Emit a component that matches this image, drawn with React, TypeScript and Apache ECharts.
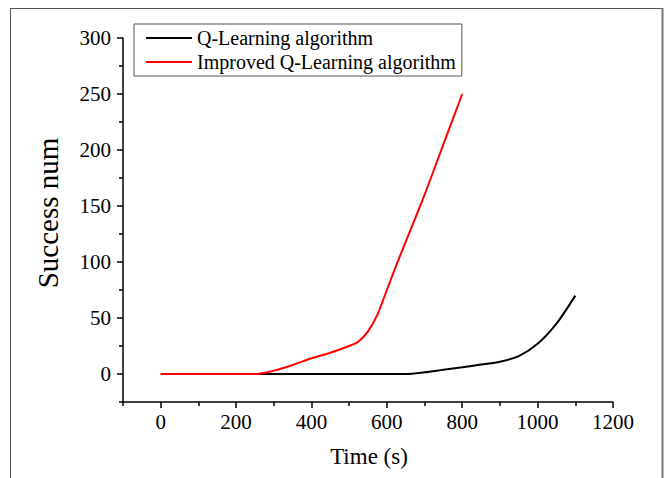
import React, { useEffect, useRef } from "react";
import * as echarts from "echarts";

const qTimes = [0, 100, 200, 300, 400, 500, 600, 650, 700, 750, 800, 850, 900, 950, 1000, 1050, 1100];
const qValues = [0, 0, 0, 0, 0, 0, 0, 0, 1.5, 3.8, 6, 8.5, 11, 16, 27, 45, 70];

const impTimes = [0, 100, 200, 250, 300, 350, 400, 450, 500, 525, 550, 575, 600, 625, 650, 700, 750, 800];
const impValues = [0, 0, 0, 0, 3, 8, 14, 19, 25, 29, 38, 53, 75, 97, 118, 160, 205, 250];

const seriesNames = ["Q-Learning algorithm", "Improved Q-Learning algorithm"];
const xMajorTicks = [0, 200, 400, 600, 800, 1000, 1200];
const xMinorTicks = [-100, 100, 300, 500, 700, 900, 1100];
const yMajorTicks = [0, 50, 100, 150, 200, 250, 300];
const yMinorTicks = [-25, 25, 75, 125, 175, 225, 275];
const xTitle = "Time (s)";
const yTitle = "Success num";

const FONT = "'Liberation Serif', 'Times New Roman', serif";

export default function App() {
  const ref = useRef<HTMLDivElement>(null);
  useEffect(() => {
    if (!ref.current) return;
    const chart = echarts.init(ref.current, null, { renderer: "svg" });
    const pair = (t: number[], v: number[]) => t.map((x, i) => [x, v[i]]);
    const fmt = (v: number) => String(v);
    const xBase = {
      type: "value",
      min: -100,
      max: 1200,
      gridIndex: 0,
      splitLine: { show: false },
    };
    const yBase = {
      type: "value",
      min: -25,
      max: 300,
      gridIndex: 0,
      splitLine: { show: false },
    };
    chart.setOption({
      animation: false,
      backgroundColor: "#ffffff",
      grid: { left: 123, top: 38, right: 53, bottom: 76, containLabel: false },
      legend: {
        orient: "vertical",
        left: 134,
        top: 24,
        padding: [4, 6, 4, 12],
        icon: "rect",
        itemWidth: 46,
        itemHeight: 2,
        itemGap: 4,
        borderColor: "#555",
        borderWidth: 1,
        data: seriesNames,
        textStyle: { fontFamily: FONT, fontSize: 20, color: "#000", lineHeight: 20 },
      },
      xAxis: [
        {
          ...xBase,
          position: "bottom",
          axisLine: { show: true, onZero: false, lineStyle: { color: "#000", width: 1.5 } },
          axisTick: { show: true, length: 6, customValues: xMajorTicks, lineStyle: { color: "#000", width: 1.5 } },
          axisLabel: {
            show: true,
            customValues: xMajorTicks,
            formatter: fmt,
            margin: 9,
            fontFamily: FONT,
            fontSize: 21,
            color: "#000",
          },
        },
        {
          ...xBase,
          position: "bottom",
          axisLine: { show: false, onZero: false },
          axisTick: { show: true, length: 4, customValues: xMinorTicks, lineStyle: { color: "#000", width: 1.5 } },
          axisLabel: { show: false },
        },
      ],
      yAxis: [
        {
          ...yBase,
          position: "left",
          axisLine: { show: true, onZero: false, lineStyle: { color: "#000", width: 1.5 } },
          axisTick: { show: true, length: 6, customValues: yMajorTicks, lineStyle: { color: "#000", width: 1.5 } },
          axisLabel: {
            show: true,
            customValues: yMajorTicks,
            formatter: fmt,
            margin: 12,
            fontFamily: FONT,
            fontSize: 21,
            color: "#000",
          },
        },
        {
          ...yBase,
          position: "left",
          axisLine: { show: false, onZero: false },
          axisTick: { show: true, length: 4, customValues: yMinorTicks, lineStyle: { color: "#000", width: 1.5 } },
          axisLabel: { show: false },
        },
      ],
      series: [
        {
          name: seriesNames[0],
          type: "line",
          data: pair(qTimes, qValues),
          symbol: "none",
          smooth: 0.3,
          lineStyle: { color: "#000", width: 2 },
          itemStyle: { color: "#000" },
          z: 3,
        },
        {
          name: seriesNames[1],
          type: "line",
          data: pair(impTimes, impValues),
          symbol: "none",
          smooth: 0.3,
          lineStyle: { color: "#ff0000", width: 2 },
          itemStyle: { color: "#ff0000" },
          z: 4,
        },
      ],
      graphic: [
        { type: "line", shape: { x1: 10.5, y1: 8.5, x2: 10.5, y2: 478 }, style: { stroke: "#555", lineWidth: 1 } },
        { type: "line", shape: { x1: 10, y1: 8.5, x2: 663, y2: 8.5 }, style: { stroke: "#555", lineWidth: 1 } },
        { type: "line", shape: { x1: 662.5, y1: 8, x2: 662.5, y2: 478 }, style: { stroke: "#777", lineWidth: 2 } },
        {
          type: "text",
          x: 369,
          y: 456,
          style: {
            text: xTitle,
            font: `23px ${FONT}`,
            fill: "#000",
            textAlign: "center",
            textVerticalAlign: "middle",
          },
        },
        {
          type: "text",
          x: 48,
          y: 213,
          rotation: Math.PI / 2,
          style: {
            text: yTitle,
            font: `29px ${FONT}`,
            fill: "#000",
            textAlign: "center",
            textVerticalAlign: "middle",
          },
        },
      ],
    });
    return () => chart.dispose();
  }, []);
  return (
    <div
      ref={ref}
      style={{ position: "fixed", left: 0, top: 0, width: 666, height: 478 }}
    />
  );
}
